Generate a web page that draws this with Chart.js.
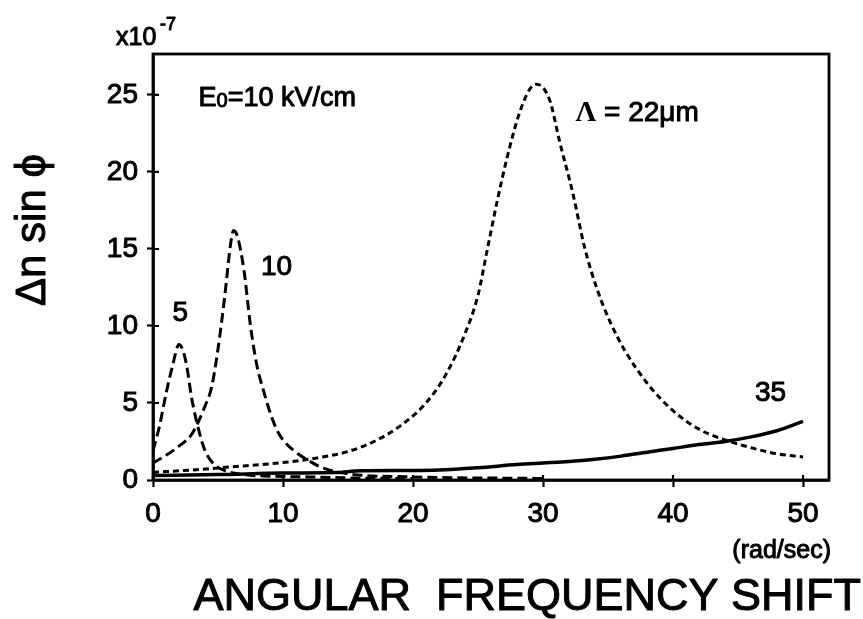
<!DOCTYPE html>
<html>
<head>
<meta charset="utf-8">
<script src="https://cdn.jsdelivr.net/npm/chart.js@4.4.1/dist/chart.umd.min.js"></script>
<style>
  body { margin: 0; background: #fff; }
  canvas { display: block; }
</style>
</head>
<body>
<canvas id="shiftChart" width="863" height="619"></canvas>
<script>
// values (x in rad/sec, y in units of 1e-7)
const xTicks = [0, 10, 20, 30, 40, 50];
const yTicks = [0, 5, 10, 15, 20, 25];

const lam5X = [0, 0.5, 1, 1.5, 2, 2.5, 3, 3.5, 4, 4.6, 5.4, 7, 9, 12, 16, 20];
const lam5Y = [1.9, 3.5, 5.6, 7.4, 8.8, 7.8, 5.2, 3.3, 1.9, 1.1, 0.65, 0.35, 0.25, 0.2, 0.12, 0.1];

const lam10X = [0, 1, 2, 3, 4, 4.5, 5, 5.5, 6, 6.2, 6.5, 7, 7.5, 8, 8.5, 9, 9.5, 10, 11, 12, 13, 15, 20, 30];
const lam10Y = [1.1, 1.6, 2.2, 3.0, 4.8, 6.0, 8.5, 11.8, 15.5, 16.2, 15.8, 13.6, 10.0, 7.4, 5.8, 4.4, 3.3, 2.6, 1.8, 1.25, 0.8, 0.4, 0.2, 0.1];

const lam22X = [0, 3, 6, 9, 12, 15, 17, 19, 21, 22.5, 24, 25, 25.7, 26.5, 27.2, 28.1, 29, 29.5, 30.5, 31.3, 32.3, 33.2, 34.2, 35.2, 36.3, 38, 40, 42, 44, 46, 48, 50];
const lam22Y = [0.5, 0.65, 0.85, 1.05, 1.35, 1.85, 2.5, 3.5, 5.0, 6.8, 9.5, 12.0, 14.9, 18.2, 20.8, 23.6, 25.4, 25.7, 24.7, 21.9, 18.6, 15.1, 12.3, 10.2, 8.4, 6.3, 4.5, 3.3, 2.6, 2.1, 1.7, 1.5];

const lam35X = [0, 5, 10, 14, 16, 20, 22, 25, 28, 30, 32, 34, 36, 38, 40, 42, 44, 46, 48, 50];
const lam35Y = [0.3, 0.35, 0.45, 0.48, 0.6, 0.62, 0.65, 0.8, 1.0, 1.1, 1.2, 1.35, 1.55, 1.8, 2.05, 2.3, 2.5, 2.8, 3.2, 3.8];

// curve labels, placed in data units
const curveLabels = [
  { text: '5', x: 2.1, y: 10.8 },
  { text: '10', x: 9.5, y: 13.8 },
  { text: '35', x: 47.5, y: 5.6 }
];

function toPoints(xs, ys) {
  return xs.map((x, i) => ({ x: x, y: ys[i] }));
}

const SANS = '"Liberation Sans", Arial, sans-serif';

// scanned text looks heavy, so fill and lightly stroke it
function heavyText(ctx, text, x, y) {
  ctx.fillText(text, x, y);
  ctx.strokeText(text, x, y);
}

const decorations = {
  id: 'decorations',
  afterDraw(chart) {
    const ctx = chart.ctx;
    const area = chart.chartArea;
    const xs = chart.scales.x;
    const ys = chart.scales.y;
    ctx.save();
    ctx.strokeStyle = '#000';
    ctx.fillStyle = '#000';

    // frame
    ctx.lineWidth = 2.8;
    ctx.strokeRect(area.left, area.top, area.right - area.left, area.bottom - area.top);

    // inward half of the tick marks
    ctx.lineWidth = 2.2;
    ctx.beginPath();
    xTicks.forEach((v) => {
      const px = xs.getPixelForValue(v);
      ctx.moveTo(px, area.bottom);
      ctx.lineTo(px, area.bottom - 5);
    });
    yTicks.forEach((v) => {
      const py = ys.getPixelForValue(v);
      ctx.moveTo(area.left, py);
      ctx.lineTo(area.left + 6, py);
    });
    ctx.stroke();

    ctx.lineWidth = 1;
    ctx.lineJoin = 'round';

    // multiplier above the y axis
    ctx.textBaseline = 'alphabetic';
    ctx.textAlign = 'left';
    ctx.font = '25px ' + SANS;
    heavyText(ctx, 'x10', 116, 45);
    ctx.font = '18px ' + SANS;
    heavyText(ctx, '-7', 160, 30);

    // y axis title
    ctx.save();
    ctx.translate(45, 230);
    ctx.rotate(-Math.PI / 2);
    ctx.textAlign = 'center';
    ctx.font = '42px ' + SANS;
    heavyText(ctx, '\u0394n sin \u03d5', 0, 0);
    ctx.restore();

    // x axis unit and title
    ctx.textAlign = 'right';
    ctx.font = '25px ' + SANS;
    heavyText(ctx, '(rad/sec)', 831, 558);
    ctx.font = '45px ' + SANS;
    heavyText(ctx, 'ANGULAR  FREQUENCY SHIFT', 861, 610);

    // field label E0=10 kV/cm
    ctx.textAlign = 'left';
    ctx.textBaseline = 'middle';
    let px = xs.getPixelForValue(3.5);
    let py = ys.getPixelForValue(24.8);
    ctx.font = '27px ' + SANS;
    heavyText(ctx, 'E', px, py);
    px += ctx.measureText('E').width;
    ctx.font = '20px ' + SANS;
    heavyText(ctx, '0', px, py + 3);
    px += ctx.measureText('0').width;
    ctx.font = '27px ' + SANS;
    heavyText(ctx, '=10 kV/cm', px, py);

    // period label
    px = xs.getPixelForValue(32.5);
    py = ys.getPixelForValue(23.8);
    ctx.font = 'bold 29px "Liberation Serif", "Times New Roman", serif';
    ctx.fillText('\u039b', px, py);
    px += ctx.measureText('\u039b').width;
    ctx.font = '28px ' + SANS;
    heavyText(ctx, ' = 22\u03bcm', px, py);

    // curve labels
    ctx.textAlign = 'center';
    ctx.font = '28px ' + SANS;
    curveLabels.forEach((l) => {
      heavyText(ctx, l.text, xs.getPixelForValue(l.x), ys.getPixelForValue(l.y));
    });
    ctx.restore();
  }
};

new Chart(document.getElementById('shiftChart'), {
  type: 'line',
  data: {
    datasets: [
      {
        label: '5',
        data: toPoints(lam5X, lam5Y),
        borderColor: '#000',
        borderWidth: 3,
        borderDash: [10, 5]
      },
      {
        label: '10',
        data: toPoints(lam10X, lam10Y),
        borderColor: '#000',
        borderWidth: 3,
        borderDash: [10, 5]
      },
      {
        label: '22',
        data: toPoints(lam22X, lam22Y),
        borderColor: '#000',
        borderWidth: 3,
        borderDash: [6, 4]
      },
      {
        label: '35',
        data: toPoints(lam35X, lam35Y),
        borderColor: '#000',
        borderWidth: 3.5
      }
    ]
  },
  options: {
    responsive: false,
    animation: false,
    events: [],
    cubicInterpolationMode: 'monotone',
    elements: { point: { radius: 0 } },
    layout: { padding: { left: 0, right: 34, top: 54, bottom: 0 } },
    plugins: {
      legend: { display: false },
      tooltip: { enabled: false }
    },
    scales: {
      x: {
        type: 'linear',
        min: 0,
        max: 52,
        afterBuildTicks: (scale) => { scale.ticks = xTicks.map((v) => ({ value: v })); },
        afterFit: (scale) => { scale.height = 139; },
        grid: { drawOnChartArea: false, tickLength: 7, tickWidth: 2.2, tickColor: '#000' },
        border: { display: true, color: '#000', width: 2.8 },
        ticks: {
          color: '#000', padding: 10, maxRotation: 0,
          textStrokeColor: '#000', textStrokeWidth: 1,
          font: { family: SANS, size: 28 }
        }
      },
      y: {
        type: 'linear',
        min: 0,
        max: 27.66,
        afterBuildTicks: (scale) => { scale.ticks = yTicks.map((v) => ({ value: v })); },
        afterFit: (scale) => { scale.width = 153; },
        grid: { drawOnChartArea: false, tickLength: 6, tickWidth: 2.2, tickColor: '#000' },
        border: { display: true, color: '#000', width: 2.8 },
        ticks: {
          color: '#000', padding: 9,
          textStrokeColor: '#000', textStrokeWidth: 1,
          font: { family: SANS, size: 28 }
        }
      }
    }
  },
  plugins: [decorations]
});
</script>
</body>
</html>
